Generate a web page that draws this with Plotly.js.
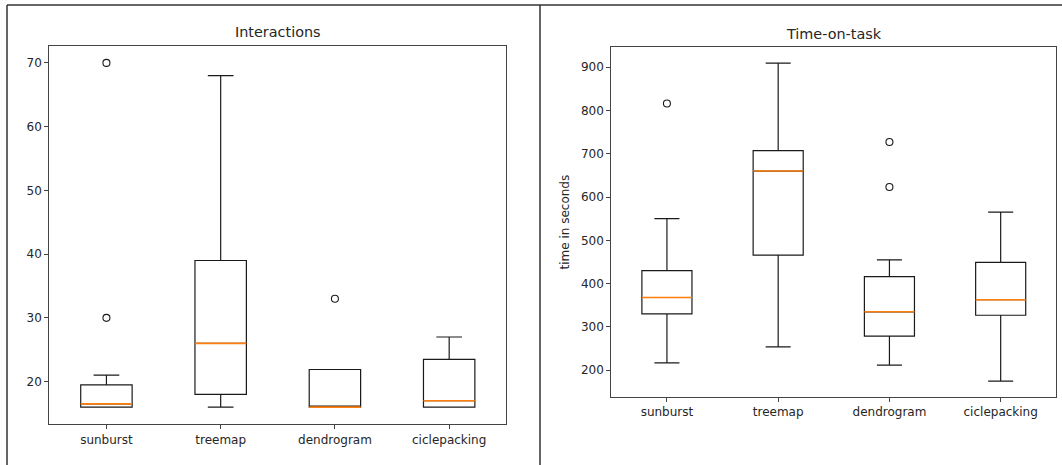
<!DOCTYPE html>
<html>
<head>
<meta charset="utf-8">
<script src="https://cdn.plot.ly/plotly-3.0.1.min.js"></script>
<style>
  html, body { margin: 0; padding: 0; background: #fff; }
  #chart { width: 1062px; height: 465px; }
</style>
</head>
<body>
<div id="chart"></div>
<script>
// ---- data ----
const categories = ['sunburst', 'treemap', 'dendrogram', 'ciclepacking'];
const positions = [1, 2, 3, 4];

// Interactions
const intLower  = [16, 16, 16, 16];
const intQ1     = [16, 18, 16, 16];
const intMedian = [16.5, 26, 16, 17];
const intQ3     = [19.5, 39, 21.9, 23.5];
const intUpper  = [21, 68, 21.9, 27];
const intOutliers = [[30, 70], [], [33], []];

// Time-on-task (seconds)
const timeLower  = [217, 254, 212, 175];
const timeQ1     = [330, 466, 279, 327];
const timeMedian = [368, 660, 335, 363];
const timeQ3     = [430, 707, 416, 449];
const timeUpper  = [550, 909, 455, 565];
const timeOutliers = [[816], [], [623, 727], []];

// ---- helpers ----
const W = 1062, H = 465;
const px = v => v / W;
const py = v => (H - v) / H;
const BOX_W = 0.45;
const lineCol = '#1a1a1a';
const textCol = '#262626';

function boxTraces(lower, q1, med, q3, upper, outliers, xa, ya) {
  const main = {
    type: 'box', x: positions, q1: q1, median: med, q3: q3,
    lowerfence: lower, upperfence: upper,
    width: BOX_W, whiskerwidth: 0.5, boxpoints: false,
    fillcolor: 'rgba(0,0,0,0)', line: { color: lineCol, width: 1.2 },
    xaxis: xa, yaxis: ya, hoverinfo: 'skip', showlegend: false
  };
  // orange median segments spanning the box width
  const mx = [], my = [];
  positions.forEach((p, i) => {
    mx.push(p - BOX_W / 2, p + BOX_W / 2, null);
    my.push(med[i], med[i], null);
  });
  const medLine = {
    type: 'scatter', mode: 'lines', x: mx, y: my, connectgaps: false,
    line: { color: '#ff7f0e', width: 1.6 },
    xaxis: xa, yaxis: ya, hoverinfo: 'skip', showlegend: false
  };
  const ox = [], oy = [];
  outliers.forEach((arr, i) => arr.forEach(v => { ox.push(positions[i]); oy.push(v); }));
  const fliers = {
    type: 'scatter', mode: 'markers', x: ox, y: oy,
    marker: { symbol: 'circle-open', size: 7, color: lineCol, line: { width: 1.1, color: lineCol } },
    xaxis: xa, yaxis: ya, hoverinfo: 'skip', showlegend: false
  };
  return [main, medLine, fliers];
}

const data = [
  ...boxTraces(intLower, intQ1, intMedian, intQ3, intUpper, intOutliers, 'x', 'y'),
  ...boxTraces(timeLower, timeQ1, timeMedian, timeQ3, timeUpper, timeOutliers, 'x2', 'y2')
];

const axisCommon = {
  showline: true, mirror: true, linecolor: '#444', linewidth: 1,
  ticks: 'outside', ticklen: 4, tickwidth: 1, tickcolor: '#444',
  showgrid: false, zeroline: false, fixedrange: true,
  tickfont: { family: 'DejaVu Sans', size: 12, color: textCol }
};

const layout = {
  width: W, height: H,
  margin: { l: 0, r: 0, t: 0, b: 0 },
  paper_bgcolor: '#fff', plot_bgcolor: '#fff',
  font: { family: 'DejaVu Sans', color: textCol },
  showlegend: false,
  boxmode: 'overlay',
  xaxis: Object.assign({}, axisCommon, {
    domain: [px(49.3), px(506.3)], anchor: 'y',
    range: [0.5, 4.5], tickvals: positions, ticktext: categories
  }),
  yaxis: Object.assign({}, axisCommon, {
    domain: [py(424.3), py(45.7)], anchor: 'x',
    range: [13.3, 72.7], tick0: 0, dtick: 10
  }),
  xaxis2: Object.assign({}, axisCommon, {
    domain: [px(611.3), px(1056.3)], anchor: 'y2',
    range: [0.5, 4.5], tickvals: positions, ticktext: categories
  }),
  yaxis2: Object.assign({}, axisCommon, {
    domain: [py(397), py(47.3)], anchor: 'x2',
    range: [138.3, 945.7], tick0: 0, dtick: 100,
    title: { text: 'time in seconds', font: { family: 'DejaVu Sans', size: 12, color: textCol }, standoff: 8 }
  }),
  annotations: [
    { text: 'Interactions', xref: 'paper', yref: 'paper', x: px(277.8), y: py(31.7),
      xanchor: 'center', yanchor: 'middle', showarrow: false,
      font: { family: 'DejaVu Sans', size: 14.4, color: textCol } },
    { text: 'Time-on-task', xref: 'paper', yref: 'paper', x: px(833.8), y: py(34),
      xanchor: 'center', yanchor: 'middle', showarrow: false,
      font: { family: 'DejaVu Sans', size: 14.4, color: textCol } }
  ],
  shapes: [
    { type: 'line', xref: 'paper', yref: 'paper', x0: px(7), x1: px(7), y0: 0, y1: py(5),
      line: { color: '#333', width: 1.5 } },
    { type: 'line', xref: 'paper', yref: 'paper', x0: px(7), x1: 1, y0: py(5), y1: py(5),
      line: { color: '#333', width: 1.5 } },
    { type: 'line', xref: 'paper', yref: 'paper', x0: px(540), x1: px(540), y0: 0, y1: py(5),
      line: { color: '#333', width: 1.5 } }
  ]
};

Plotly.newPlot('chart', data, layout, { staticPlot: true, displayModeBar: false });
</script>
</body>
</html>
